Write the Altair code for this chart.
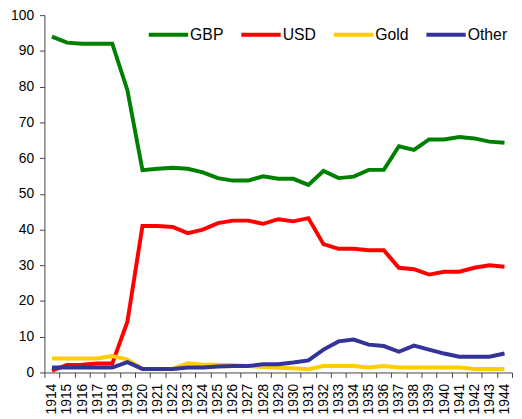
import altair as alt
import pandas as pd

years = [str(y) for y in range(1914, 1945)]
gbp = [94.0, 92.3, 92.0, 92.0, 92.0, 79.0, 56.6, 57.0, 57.3, 57.0, 56.0, 54.4, 53.7, 53.7,
       54.9, 54.2, 54.2, 52.5, 56.4, 54.4, 54.8, 56.7, 56.7, 63.3, 62.3, 65.2, 65.2, 65.9,
       65.5, 64.6, 64.3]
usd = [0.5, 2.1, 2.2, 2.5, 2.5, 14.2, 41.0, 41.0, 40.7, 39.0, 40.0, 41.8, 42.5, 42.5,
       41.6, 42.9, 42.3, 43.2, 35.9, 34.6, 34.6, 34.2, 34.2, 29.3, 28.9, 27.4, 28.2, 28.2,
       29.3, 30.0, 29.6]
gold = [3.9, 3.9, 3.9, 3.9, 4.6, 3.6, 1.0, 1.0, 1.0, 2.6, 2.2, 2.2, 2.0, 1.8,
        1.5, 1.3, 1.2, 0.9, 1.8, 1.8, 1.8, 1.4, 1.8, 1.4, 1.4, 1.4, 1.4, 1.4,
        1.0, 1.0, 1.0]
other = [1.4, 1.4, 1.4, 1.4, 1.4, 2.9, 1.0, 1.0, 1.0, 1.4, 1.4, 1.7, 1.8, 1.8,
         2.3, 2.3, 2.8, 3.4, 6.4, 8.7, 9.2, 7.8, 7.4, 5.8, 7.5, 6.4, 5.3, 4.4,
         4.4, 4.4, 5.3]

series = ["GBP", "USD", "Gold", "Other"]
colors = ["#008000", "#FF0000", "#FFCC00", "#333399"]

rows = []
for name, vals in zip(series, [gbp, usd, gold, other]):
    for y, v in zip(years, vals):
        rows.append({"year": y, "value": v, "series": name})
df = pd.DataFrame(rows)

font = "Liberation Sans"

chart = alt.Chart(df).mark_line(strokeWidth=4).encode(
    x=alt.X("year:O", scale=alt.Scale(type="band", paddingInner=0, paddingOuter=0),
            axis=alt.Axis(title=None, labelAngle=270, tickBand="extent", tickSize=5,
                          labelFontSize=14, labelPadding=6, domainColor="#444444",
                          tickColor="#444444", labelColor="#000000")),
    y=alt.Y("value:Q", scale=alt.Scale(domain=[0, 100]),
            axis=alt.Axis(title=None, values=list(range(0, 101, 10)), grid=False,
                          tickSize=5, labelFontSize=14, labelPadding=6,
                          domainColor="#444444", tickColor="#444444", labelColor="#000000")),
    color=alt.Color("series:N", sort=series,
                    scale=alt.Scale(domain=series, range=colors),
                    legend=alt.Legend(title=None, orient="none", legendX=104, legendY=-2,
                                      direction="horizontal", columns=4,
                                      symbolType="stroke", symbolSize=1600,
                                      symbolStrokeWidth=4, labelFontSize=16,
                                      labelOffset=0, columnPadding=10, labelColor="#000000")),
    order=alt.Order("series:N"),
).properties(
    width=475, height=363,
    autosize=alt.AutoSizeParams(type="none"),
    padding={"left": 37, "top": 4, "right": 2, "bottom": 44},
).configure(font=font).configure_view(stroke=None)

chart.save("out.html", embed_options={"renderer": "svg", "actions": False})
